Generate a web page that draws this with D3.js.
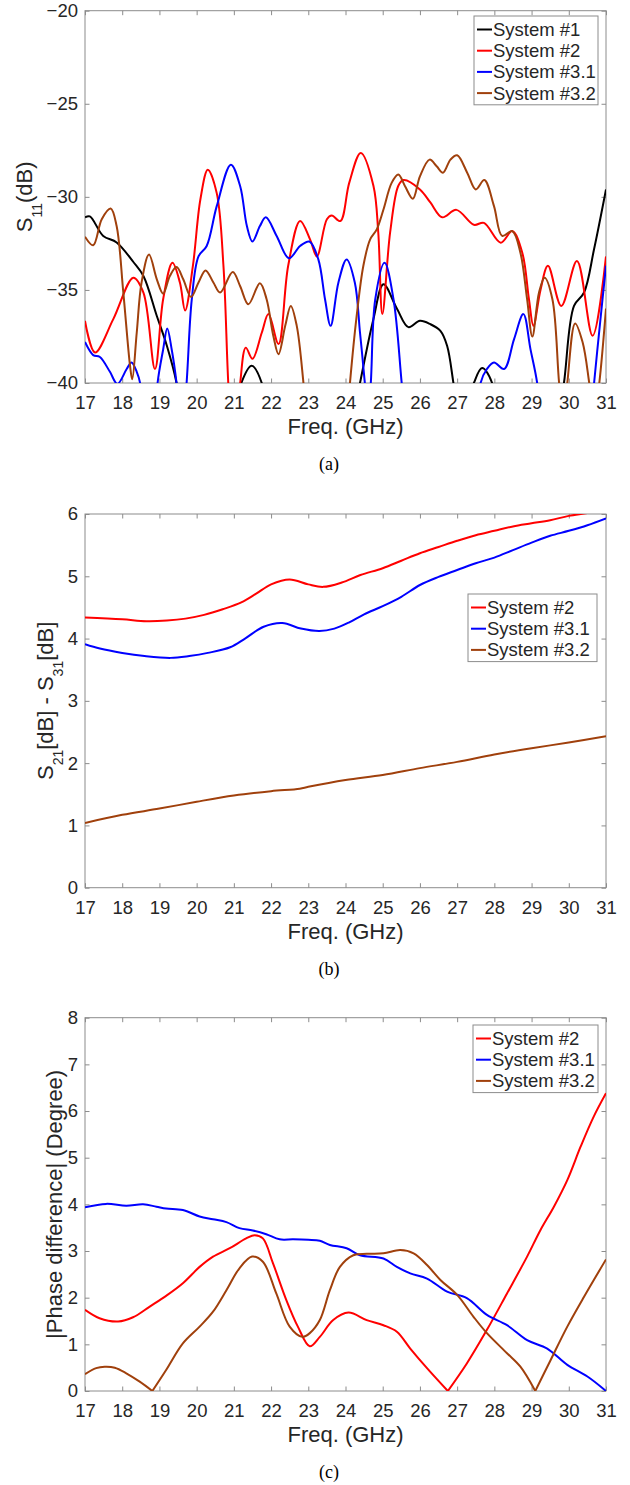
<!DOCTYPE html>
<html><head><meta charset="utf-8">
<script src="https://cdn.jsdelivr.net/npm/d3@7"></script>
<style>body{margin:0;background:#fff} svg{display:block}</style>
</head><body><svg id="chart" width="630" height="1485"></svg>
<script>
// ---------- data ----------
const freqTicks = [17,18,19,20,21,22,23,24,25,26,27,28,29,30,31];
const s11Ticks = [-40,-35,-30,-25,-20];
const diffTicks = [0,1,2,3,4,5,6];
const phaseTicks = [0,1,2,3,4,5,6,7,8];
const seriesNames = ["System #1","System #2","System #3.1","System #3.2"];

// (a) S11 (dB) : [freq GHz, value]
const s11_sys1 = [[17,-31.1],[17.13,-31.05],[17.49,-32.1],[17.85,-32.45],[18.3,-33.5],[18.57,-34.25],[18.93,-36.4],[19.2,-38],[19.46,-40],[19.6,-42],[20.3,-46],[21.0,-42],[21.2,-40],[21.48,-39.07],[21.75,-40],[21.9,-42],[23,-48],[24.2,-42],[24.39,-40],[24.75,-36.57],[25.02,-34.7],[25.38,-36.0],[25.69,-37.0],[26.0,-36.66],[26.28,-36.84],[26.55,-37.2],[26.73,-38],[26.9,-40],[27.05,-42],[27.3,-41],[27.45,-40],[27.67,-39.2],[27.94,-40],[28.1,-42],[29,-46],[29.7,-42],[29.87,-40],[30.14,-35.86],[30.41,-35.14],[30.68,-32.8],[31,-29.6]];
const s11_sys2 = [[17,-36.66],[17.27,-38.36],[17.76,-36.57],[18.3,-34.34],[18.57,-35.14],[18.88,-39.25],[19.1,-35.5],[19.35,-33.54],[19.55,-34.6],[19.69,-36.1],[19.9,-33.7],[20.1,-30.14],[20.3,-28.54],[20.54,-29.8],[20.72,-33.7],[20.85,-40],[20.95,-43],[21.08,-42],[21.17,-40],[21.32,-38.1],[21.5,-38.7],[21.75,-37.3],[21.93,-36.3],[22.2,-37.9],[22.46,-33.7],[22.78,-31.3],[23.05,-32.3],[23.23,-33.2],[23.5,-31.2],[23.63,-31.0],[23.86,-31.3],[24.1,-29.25],[24.41,-27.64],[24.75,-29.4],[24.88,-31.9],[24.99,-36.3],[25.2,-31.9],[25.42,-29.4],[25.56,-29.1],[26.0,-29.6],[26.28,-30.3],[26.6,-31.1],[26.98,-30.7],[27.45,-31.5],[27.72,-31.4],[28.17,-32.46],[28.48,-31.84],[28.75,-33.0],[28.93,-35.5],[29.05,-36.93],[29.24,-35.0],[29.44,-33.7],[29.8,-35.86],[30.22,-33.45],[30.64,-37.46],[31,-33.2]];
const s11_sys31 = [[17,-37.8],[17.22,-38.5],[17.4,-38.6],[17.67,-39.4],[17.87,-40.05],[18.12,-39.25],[18.25,-38.9],[18.39,-39.4],[18.48,-40],[18.6,-43],[18.85,-43],[18.95,-40],[19.1,-38.2],[19.21,-37.07],[19.33,-38.2],[19.46,-40],[19.6,-43],[19.73,-40],[19.87,-35.5],[20.05,-33.2],[20.27,-32.64],[20.54,-30.5],[20.92,-28.27],[21.17,-29.43],[21.35,-31.57],[21.5,-32.4],[21.7,-31.57],[21.86,-31.1],[22.15,-32.1],[22.48,-33.3],[22.78,-32.64],[23.03,-32.4],[23.27,-33.36],[23.45,-35.5],[23.6,-36.93],[23.81,-34.6],[24.03,-33.36],[24.25,-34.6],[24.39,-37.3],[24.52,-40],[24.6,-42],[24.68,-40],[24.8,-35.5],[25.05,-33.54],[25.29,-35.5],[25.51,-40],[25.65,-43],[26.5,-48],[27.5,-43],[27.63,-40],[27.8,-39.25],[27.99,-38.9],[28.26,-39.25],[28.53,-37.64],[28.78,-36.3],[28.97,-38.18],[29.15,-40],[29.3,-43],[30,-48],[30.55,-43],[30.68,-40],[30.86,-36.4],[31,-33.7]];
const s11_sys32 = [[17,-32.14],[17.22,-32.6],[17.45,-31.2],[17.69,-30.63],[17.85,-31.57],[18.03,-35.14],[18.21,-39.07],[18.27,-39.8],[18.39,-37.3],[18.52,-34.6],[18.72,-33.1],[18.93,-34.43],[19.1,-35.2],[19.28,-34.25],[19.46,-33.77],[19.64,-34.43],[19.85,-35.38],[20.05,-34.6],[20.24,-33.95],[20.45,-34.6],[20.63,-35.14],[20.97,-34.04],[21.17,-34.8],[21.39,-35.77],[21.7,-34.64],[21.88,-35.5],[22.06,-37.46],[22.2,-38.45],[22.38,-36.93],[22.53,-35.86],[22.69,-36.93],[22.87,-40],[23.0,-43],[23.5,-46],[24.0,-43],[24.12,-40],[24.3,-36.4],[24.48,-33.7],[24.66,-32.3],[24.84,-31.75],[25.02,-30.68],[25.24,-29.25],[25.42,-28.8],[25.6,-29.43],[25.81,-30.1],[26.0,-28.9],[26.26,-28.0],[26.45,-28.36],[26.62,-28.7],[26.82,-28.0],[27.0,-27.77],[27.27,-28.7],[27.5,-29.6],[27.73,-29.1],[27.99,-30.5],[28.21,-32.1],[28.48,-31.84],[28.7,-33.0],[28.88,-35.5],[29.02,-37.5],[29.2,-35.14],[29.35,-34.34],[29.56,-35.5],[29.74,-40],[29.85,-42],[29.96,-40],[30.17,-36.8],[30.37,-37.8],[30.55,-40],[30.68,-42],[30.82,-40],[31,-36.0]];

// (b) S21[dB] - S31[dB]
const diff_sys2 = [[17,4.34],[18,4.31],[18.65,4.28],[19.2,4.29],[19.7,4.32],[20.2,4.38],[20.7,4.47],[21.2,4.58],[21.6,4.72],[22.0,4.87],[22.5,4.95],[23.0,4.87],[23.4,4.83],[23.9,4.9],[24.4,5.02],[25,5.13],[25.5,5.25],[26,5.37],[26.5,5.47],[27,5.57],[27.5,5.66],[28,5.73],[28.5,5.8],[29,5.85],[29.5,5.9],[30,5.97],[30.54,6.02],[31,6.08]];
const diff_sys31 = [[17,3.91],[17.4,3.84],[18,3.77],[18.6,3.72],[19.3,3.69],[19.8,3.72],[20.3,3.77],[20.9,3.86],[21.3,4.0],[21.8,4.19],[22.3,4.25],[22.8,4.16],[23.3,4.12],[23.7,4.16],[24.1,4.26],[24.5,4.39],[25,4.52],[25.5,4.67],[26,4.86],[26.5,4.99],[27,5.1],[27.5,5.21],[28,5.3],[28.5,5.42],[29,5.54],[29.5,5.65],[30,5.73],[30.5,5.82],[31,5.93]];
const diff_sys32 = [[17,1.04],[18,1.17],[19,1.27],[20,1.38],[21,1.48],[22,1.55],[22.77,1.59],[23,1.62],[24,1.73],[25,1.81],[26,1.92],[27,2.02],[28,2.14],[29,2.24],[30,2.33],[31,2.43]];

// (c) |Phase difference| (Degree)
const phase_sys2 = [[17,1.74],[17.39,1.56],[17.89,1.49],[18.29,1.58],[18.74,1.81],[19.18,2.04],[19.63,2.31],[20.08,2.66],[20.44,2.88],[20.89,3.06],[21.33,3.27],[21.56,3.34],[21.78,3.27],[22.05,2.74],[22.41,1.95],[22.72,1.38],[23.04,0.96],[23.31,1.16],[23.67,1.52],[24.08,1.68],[24.57,1.52],[25.02,1.41],[25.38,1.27],[25.74,0.91],[26.19,0.49],[26.75,0],[27.26,0.59],[27.8,1.31],[28.34,2.09],[28.88,2.88],[29.24,3.45],[29.6,3.95],[29.96,4.52],[30.32,5.24],[30.67,5.88],[31,6.38]];
const phase_sys31 = [[17,3.94],[17.57,4.01],[18.11,3.97],[18.56,4.0],[18.92,3.95],[19.18,3.91],[19.63,3.88],[20.08,3.74],[20.44,3.68],[20.8,3.62],[21.15,3.49],[21.51,3.44],[21.87,3.36],[22.23,3.25],[22.59,3.25],[23,3.24],[23.31,3.22],[23.58,3.13],[24.03,3.06],[24.39,2.91],[25.02,2.84],[25.38,2.66],[25.74,2.52],[26.19,2.41],[26.73,2.13],[27.26,1.99],[27.8,1.63],[28.34,1.41],[28.88,1.09],[29.42,0.91],[29.96,0.56],[30.5,0.31],[31,0]];
const phase_sys32 = [[17,0.36],[17.3,0.49],[17.53,0.52],[17.8,0.5],[18.11,0.38],[18.47,0.2],[18.81,0],[19.18,0.45],[19.63,1.02],[20.08,1.38],[20.44,1.7],[20.8,2.16],[21.15,2.63],[21.49,2.88],[21.78,2.77],[22.14,2.09],[22.5,1.38],[22.84,1.16],[23.04,1.24],[23.31,1.52],[23.58,2.16],[23.85,2.66],[24.21,2.91],[24.57,2.94],[25.02,2.95],[25.47,3.02],[25.83,2.95],[26.19,2.7],[26.55,2.38],[27.0,2.06],[27.44,1.59],[27.8,1.24],[28.34,0.81],[28.7,0.52],[29.1,0],[29.51,0.66],[29.96,1.38],[30.41,2.02],[31,2.82]];

// ---------- styling / layout ----------
const COLORS = {"System #1":"#000000","System #2":"#ff0000","System #3.1":"#0000ff","System #3.2":"#a0400c"};
const TXT = "#262626", FRAME = "#8c8c8c";
const SANS = "'Liberation Sans', Arial, Helvetica, sans-serif";
const SERIF = "'Liberation Serif', 'Times New Roman', serif";
const X0 = 85, X1 = 606;

const panels = [
  {top:10.7, bottom:383, domain:[-40,-20], ticks:s11Ticks,
   series:[[seriesNames[0],s11_sys1],[seriesNames[1],s11_sys2],[seriesNames[2],s11_sys31],[seriesNames[3],s11_sys32]],
   label:[["S",0],["11",1],["(dB)",0]], labelX:31.7, caption:"(a)",
   legend:{x:474, y:16, w:124}},
  {top:514, bottom:887.7, domain:[0,6], ticks:diffTicks,
   series:[[seriesNames[1],diff_sys2],[seriesNames[2],diff_sys31],[seriesNames[3],diff_sys32]],
   label:[["S",0],["21",1],["[dB] - S",0],["31",1],["[dB]",0]], labelX:52.7, caption:"(b)",
   legend:{x:468, y:594, w:129}},
  {top:1017.7, bottom:1391, domain:[0,8], ticks:phaseTicks,
   series:[[seriesNames[1],phase_sys2],[seriesNames[2],phase_sys31],[seriesNames[3],phase_sys32]],
   label:[["|Phase difference| (Degree)",0]], labelX:62, caption:"(c)",
   legend:{x:473, y:1025, w:125}}
];

const svg = d3.select("#chart");
const x = d3.scaleLinear().domain([17,31]).range([X0, X1]);

panels.forEach((p, pi) => {
  const y = d3.scaleLinear().domain(p.domain).range([p.bottom, p.top]);
  const g = svg.append("g");
  const clipId = "clip" + pi;
  g.append("clipPath").attr("id", clipId).append("rect")
    .attr("x", X0).attr("y", p.top).attr("width", X1 - X0).attr("height", p.bottom - p.top);

  // frame
  g.append("rect").attr("x", X0).attr("y", p.top).attr("width", X1 - X0).attr("height", p.bottom - p.top)
    .attr("fill", "none").attr("stroke", FRAME).attr("stroke-width", 1);

  const styleAxis = (sel, labels) => {
    sel.select(".domain").remove();
    sel.selectAll(".tick line").attr("stroke", FRAME).attr("stroke-width", 1);
    sel.selectAll(".tick text").attr("fill", TXT).style("font-family", SANS).style("font-size", "18.5px");
    if (!labels) sel.selectAll(".tick text").remove();
  };
  g.append("g").attr("transform", `translate(0,${p.bottom})`)
    .call(d3.axisBottom(x).tickValues(freqTicks).tickSize(-4.5).tickPadding(13).tickFormat(d3.format("d")))
    .call(s => styleAxis(s, true));
  g.append("g").attr("transform", `translate(0,${p.top})`)
    .call(d3.axisTop(x).tickValues(freqTicks).tickSize(-4.5))
    .call(s => styleAxis(s, false));
  g.append("g").attr("transform", `translate(${X0},0)`)
    .call(d3.axisLeft(y).tickValues(p.ticks).tickSize(-4.5).tickPadding(7).tickFormat(d3.format("d")))
    .call(s => styleAxis(s, true));
  g.append("g").attr("transform", `translate(${X1},0)`)
    .call(d3.axisRight(y).tickValues(p.ticks).tickSize(-4.5))
    .call(s => styleAxis(s, false));

  // lines
  const line = d3.line().x(d => x(d[0])).y(d => y(d[1])).curve(d3.curveCatmullRom.alpha(0.5));
  const lg = g.append("g").attr("clip-path", `url(#${clipId})`);
  p.series.forEach(([name, data]) => {
    // split at exact zero points (|.| kinks) so they stay sharp
    const segs = []; let cur = [];
    data.forEach((d, i) => {
      cur.push(d);
      if (pi === 2 && d[1] === 0 && i > 0 && i < data.length - 1) { segs.push(cur); cur = [d]; }
    });
    segs.push(cur);
    segs.forEach(s => lg.append("path").attr("d", line(s)).attr("fill", "none")
      .attr("stroke", COLORS[name]).attr("stroke-width", 2).attr("stroke-linejoin", "round"));
  });

  // legend
  const L = p.legend, rowH = 21.2, n = p.series.length;
  const leg = g.append("g");
  leg.append("rect").attr("x", L.x).attr("y", L.y).attr("width", L.w).attr("height", n * rowH + 4)
    .attr("fill", "#fff").attr("stroke", FRAME).attr("stroke-width", 1);
  p.series.forEach(([name], i) => {
    const cy = L.y + 13.5 + i * rowH;
    leg.append("line").attr("x1", L.x + 3).attr("x2", L.x + 18).attr("y1", cy).attr("y2", cy)
      .attr("stroke", COLORS[name]).attr("stroke-width", 2);
    leg.append("text").attr("x", L.x + 19).attr("y", cy).attr("dy", "0.35em")
      .attr("fill", TXT).style("font-family", SANS).style("font-size", "18.5px").text(name);
  });

  // x label
  g.append("text").attr("x", (X0 + X1) / 2).attr("y", p.bottom + 51.3).attr("text-anchor", "middle")
    .attr("fill", TXT).style("font-family", SANS).style("font-size", "22px").text("Freq. (GHz)");

  // y label
  const yl = g.append("text")
    .attr("transform", `translate(${p.labelX},${(p.top + p.bottom) / 2}) rotate(-90)`)
    .attr("text-anchor", "middle").attr("fill", TXT).style("font-family", SANS).style("font-size", "22px");
  let shifted = 0;
  p.label.forEach(([t, sub]) => {
    const ts = yl.append("tspan").text(t);
    if (sub && !shifted) { ts.attr("dy", 10).style("font-size", "14px"); shifted = 1; }
    else if (!sub && shifted) { ts.attr("dy", -10); shifted = 0; }
    else if (sub) ts.style("font-size", "14px");
  });

  // caption
  g.append("text").attr("x", 329).attr("y", p.bottom + 87).attr("text-anchor", "middle")
    .attr("fill", "#000").style("font-family", SERIF).style("font-size", "18px").text(p.caption);
});
</script>
</body></html>
